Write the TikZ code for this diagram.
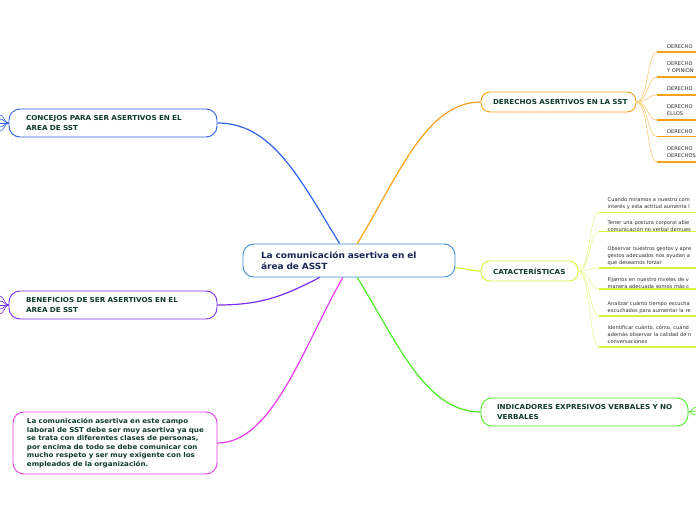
\documentclass[tikz,border=0pt]{standalone}
\usepackage{fontspec}
\setmainfont{DejaVu Sans}[FakeStretch=1.06]
\newfontfamily\kidfont{DejaVu Sans}
\definecolor{cblue}{HTML}{3B8ED6}
\definecolor{bblue}{HTML}{2E63F0}
\definecolor{corange}{HTML}{F7A11A}
\definecolor{corangel}{HTML}{FBCB78}
\definecolor{cyellow}{HTML}{D9F23C}
\definecolor{cyellowl}{HTML}{E9F890}
\definecolor{cgreen}{HTML}{4CEB26}
\definecolor{cmag}{HTML}{E93BEF}
\definecolor{cpurp}{HTML}{7A2EF0}
\definecolor{ctext}{HTML}{0E3B2C}
\definecolor{cnavy}{HTML}{1A2556}
\definecolor{csmall}{HTML}{2E2E2E}
\begin{document}
\begin{tikzpicture}[x=1pt,y=-1pt,
  box/.style={draw, fill=white, rounded corners=11pt, line width=0.9pt, align=left, inner ysep=0pt, text=ctext,
    font=\fontsize{6.8}{10}\selectfont\bfseries},
  kid/.style={anchor=north west, inner sep=0pt, align=left, text=csmall, font=\kidfont\fontsize{5.1}{7}\selectfont},
  conn/.style={line width=1.2pt},
  under/.style={line width=1.3pt},
  thin/.style={line width=0.6pt}
]
\useasboundingbox (0,0) rectangle (696,520);
\fill[white] (0,0) rectangle (696,520);

% central
\node[box, draw=cblue, text=cnavy, font=\fontsize{8.5}{11}\selectfont\bfseries, text width=176pt, inner xsep=18pt, minimum height=33pt] (c) at (349,260.5) {\mbox{La comunicación asertiva en el}\\\mbox{área de ASST}};

% main branches
\node[box, draw=bblue, text width=174pt, inner xsep=17pt, minimum height=28pt] (k1) at (113,123) {\mbox{CONCEJOS PARA SER ASERTIVOS EN EL}\\\mbox{AREA DE SST}};
\node[box, draw=cpurp, text width=174pt, inner xsep=17pt, minimum height=28pt] (k2) at (113,305) {\mbox{BENEFICIOS DE SER ASERTIVOS EN EL}\\\mbox{AREA DE SST}};
\node[box, draw=cmag, text width=176pt, inner xsep=14pt, minimum height=62pt, font=\fontsize{6.7}{8.6}\selectfont\bfseries] (k3) at (115,443) {\mbox{La comunicación asertiva en este campo}\\\mbox{laboral de SST debe ser muy asertiva ya que}\\\mbox{se trata con diferentes clases de personas,}\\\mbox{por encima de todo se debe comunicar con}\\\mbox{mucho respeto y ser muy exigente con los}\\\mbox{empleados de la organización.}};
\node[box, draw=corange, text width=131pt, inner xsep=12pt, minimum height=20pt, rounded corners=9pt] (d) at (558.5,102) {\mbox{DERECHOS ASERTIVOS EN LA SST}};
\node[box, draw=cyellow, text width=73pt, inner xsep=12pt, minimum height=20pt, rounded corners=9pt] (ch) at (529.5,271) {\mbox{CATACTERÍSTICAS}};
\node[box, draw=cgreen, text width=175pt, inner xsep=16pt, minimum height=28pt] (ind) at (584.5,412) {\mbox{INDICADORES EXPRESIVOS VERBALES Y NO}\\\mbox{VERBALES}};

% connectors from central
\draw[conn, bblue] (c.119) .. controls +(-40,-65) and +(55,0) .. (k1.east);
\draw[conn, corange] (c.64) .. controls +(40,-65) and +(-55,0) .. (d.west);
\draw[conn, cgreen] (c.-64) .. controls +(40,65) and +(-55,0) .. (ind.west);
\draw[conn, cmag] (c.250) .. controls +(-40,70) and +(55,0) .. (k3.east);
\draw[conn, cpurp] (c.210) .. controls +(-35,18) and +(45,0) .. (k2.east);
\draw[conn, cyellow] (c.-4) .. controls +(10,0) and +(-10,0) .. (ch.west);

% stubs off the edges
\foreach \yy [count=\i] in {115,119,123,127,131}{
  \coordinate (sb\i) at (0,\yy);
  \draw[thin, bblue] (k1.west) .. controls +(-4,0) and +(4,0) .. (sb\i);
}
\foreach \yy [count=\i] in {296,301,305,309,314}{
  \coordinate (sp\i) at (0,\yy);
  \draw[thin, cpurp] (k2.west) .. controls +(-4,0) and +(4,0) .. (sp\i);
}
\foreach \yy [count=\i] in {407,411,415}{
  \coordinate (sg\i) at (696,\yy);
  \draw[thin, cgreen] (ind.east) .. controls +(4,0) and +(-4,0) .. (sg\i);
}

% orange children
\foreach \yy [count=\i] in {52,77,95,120,136.5,162}{
  \coordinate (oa\i) at (657,\yy);
  \coordinate (ob\i) at (696,\yy);
  \draw[thin, corangel] (d.east) .. controls +(12,0) and +(-10,0) .. (oa\i);
  \draw[under, corange] (oa\i) -- (ob\i);
}
\node[kid] (o1) at (667,44.5) {DERECHO};
\node[kid] (o2) at (667,62) {DERECHO\\Y OPINION};
\node[kid] (o3) at (667,86.3) {DERECHO};
\node[kid] (o4) at (667,105) {DERECHO\\ELLOS};
\node[kid] (o5) at (667,129.8) {DERECHO};
\node[kid] (o6) at (667,147) {DERECHO\\DERECHOS};

% yellow children
\foreach \yy [count=\i] in {212.5,231.5,268,289,316,347}{
  \coordinate (ya\i) at (599,\yy);
  \coordinate (yb\i) at (696,\yy);
  \draw[thin, cyellowl] (ch.east) .. controls +(12,0) and +(-10,0) .. (ya\i);
  \draw[under, cyellow] (ya\i) -- (yb\i);
}
\node[kid, text width=100pt] (y1) at (607.5,197.1) {Cuando miramos a nuestro com\\interés y esta actitud aumenta l};
\node[kid, text width=100pt] (y2) at (607.5,220.8) {Tener una postura corporal abie\\comunicación no verbal demues};
\node[kid, text width=100pt] (y3) at (607.5,246) {Observar nuestros gestos y apre\\gestos adecuados nos ayudan a\\que deseamos forzar};
\node[kid, text width=100pt] (y4) at (607.5,277.1) {Fijarnos en nuestro niveles de v\\manera adecuada somos más c};
\node[kid, text width=100pt] (y5) at (607.5,301) {Analizar cuánto tiempo escucha\\escuchados para aumentar la re};
\node[kid, text width=100pt] (y6) at (607.5,325.6) {Identificar cuánto, cómo, cuánd\\además observar la calidad de n\\conversaciones};
\end{tikzpicture}
\end{document}
